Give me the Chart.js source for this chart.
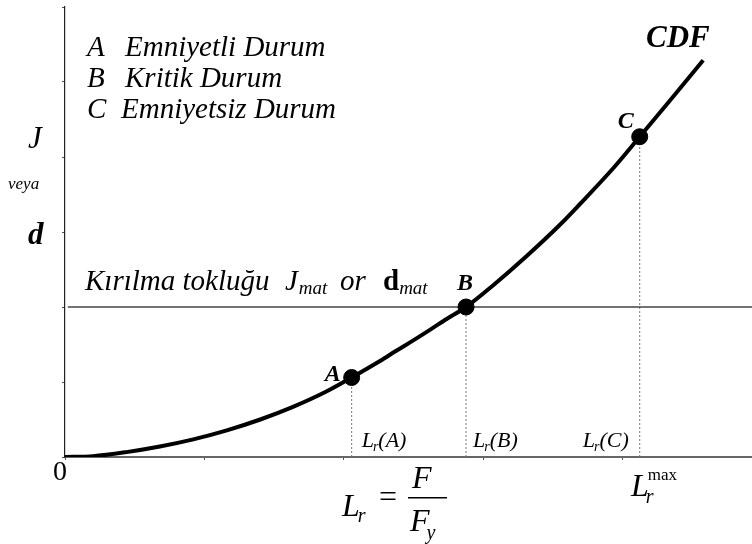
<!DOCTYPE html>
<html>
<head>
<meta charset="utf-8">
<script src="https://cdn.jsdelivr.net/npm/chart.js@4/dist/chart.umd.min.js"></script>
<style>
  html, body { margin: 0; padding: 0; background: #fff; overflow: hidden; }
  canvas { display: block; }
</style>
</head>
<body>
<canvas id="cdfChart" width="752" height="544"></canvas>
<script>
// === Data ===
// CDF curve: L_r (x) against J or d (y)
const curveLr = [0, 0.20, 0.44, 0.68, 0.92, 1.16, 1.40, 1.63, 1.87, 2.055, 2.258, 2.378, 2.497, 2.616, 2.736, 2.875, 3.07, 3.31, 3.55, 3.69, 3.93, 4.12, 4.34, 4.575];
const curveJ  = [0, 0.01, 0.065, 0.14, 0.235, 0.355, 0.50, 0.665, 0.87, 1.06,  1.28,  1.42,  1.555, 1.695, 1.84,  2.00,  2.29, 2.68, 3.10, 3.37, 3.85, 4.27, 4.76, 5.29];

// Assessment points A / B / C
const stateNames = ["A", "B", "C"];
const stateLr    = [2.055, 2.875, 4.12];
const stateJ     = [1.06, 2.00, 4.27];

// Fracture toughness level (J_mat or d_mat)
const jMat = 2.0;

// Axis ranges and tick spacing
const xMax = 4.925;
const yMax = 6;
const tickStep = 1;

// --- build datasets from the arrays above ---
const curvePts = curveLr.map((x, i) => ({ x: x, y: curveJ[i] }));
const statePts = stateLr.map((x, i) => ({ x: x, y: stateJ[i] }));

const dropLines = stateLr.map((x, i) => ({
    type: "line",
    data: [{ x: x, y: 0 }, { x: x, y: stateJ[i] }],
    borderColor: "#777",
    borderWidth: 1,
    borderDash: [2, 2],
    pointRadius: 0,
    order: 5
}));

const serif = "'Liberation Serif', 'Times New Roman', serif";

function txt(ctx, s, x, y, font) {
    ctx.font = font + " " + serif;
    ctx.fillText(s, x, y);
    return x + ctx.measureText(s).width;
}

// === All the texts of the figure ===
const textPlugin = {
    id: "figureTexts",
    afterDraw(chart) {
        const ctx = chart.ctx;
        const xs = chart.scales.x, ys = chart.scales.y;
        ctx.save();
        ctx.fillStyle = "#000";
        ctx.textBaseline = "alphabetic";

        // legend of states
        txt(ctx, "A", 87, 56, "italic 29px");
        txt(ctx, "Emniyetli Durum", 125, 56, "italic 29px");
        txt(ctx, "B", 87, 87, "italic 29px");
        txt(ctx, "Kritik Durum", 125, 87, "italic 29px");
        txt(ctx, "C", 87, 118, "italic 29px");
        txt(ctx, "Emniyetsiz Durum", 121, 118, "italic 29px");

        // y axis title
        txt(ctx, "J", 28, 148, "italic 31px");
        txt(ctx, "veya", 8, 189, "italic 17px");
        txt(ctx, "d", 28, 244, "bold italic 31px");

        // curve name
        txt(ctx, "CDF", 646, 47, "bold italic 31px");

        // state labels next to the dots
        const offs = [[-27, 3], [-9, -17], [-22, -9]];
        stateNames.forEach((n, i) => {
            const px = xs.getPixelForValue(stateLr[i]);
            const py = ys.getPixelForValue(stateJ[i]);
            txt(ctx, n, px + offs[i][0], py + offs[i][1], "bold italic 24px");
        });

        // toughness line label
        const ly = ys.getPixelForValue(jMat) - 17;
        let cx = txt(ctx, "Kırılma tokluğu", 85, ly, "italic 29px");
        cx = txt(ctx, "J", 285, ly, "italic 29px");
        txt(ctx, "mat", cx + 1, ly + 4, "italic 19px");
        txt(ctx, "or", 340, ly, "italic 29px");
        cx = txt(ctx, "d", 383, ly, "bold 29px");
        txt(ctx, "mat", cx, ly + 4, "italic 19px");

        // L_r(A) ... labels above the x axis
        const lOffs = [10, 7, -57];
        stateNames.forEach((n, i) => {
            const px = xs.getPixelForValue(stateLr[i]);
            let x = txt(ctx, "L", px + lOffs[i], 447, "italic 22px");
            x = txt(ctx, "r", x - 1, 451, "italic 14px");
            txt(ctx, "(" + n + ")", x, 447, "italic 22px");
        });

        // origin
        txt(ctx, "0", 53, 480, "28px");

        // L_r = F / F_y
        let x = txt(ctx, "L", 342, 516, "italic 32px");
        txt(ctx, "r", x - 2, 522, "italic 20px");
        txt(ctx, "=", 379, 507, "32px");
        ctx.fillRect(408, 497, 39, 1.5);
        txt(ctx, "F", 412, 488, "italic 32px");
        x = txt(ctx, "F", 410, 531, "italic 32px");
        txt(ctx, "y", x - 3, 539, "italic 20px");

        // L_r^max
        x = txt(ctx, "L", 631, 496, "italic 32px");
        txt(ctx, "r", x - 3, 503, "italic 20px");
        txt(ctx, "max", x - 1, 480, "17px");

        ctx.restore();
    }
};

new Chart(document.getElementById("cdfChart"), {
    type: "scatter",
    data: {
        datasets: [
            {
                // the CDF curve
                type: "line",
                data: curvePts,
                borderColor: "#000",
                borderWidth: 4,
                cubicInterpolationMode: "monotone",
                pointRadius: 0,
                order: 2
            },
            {
                // A, B, C dots
                data: statePts,
                backgroundColor: "#000",
                borderColor: "#000",
                pointRadius: 8,
                order: 1
            },
            {
                // fracture toughness level
                type: "line",
                data: [{ x: 0.02, y: jMat }, { x: xMax, y: jMat }],
                borderColor: "#444",
                borderWidth: 1.5,
                pointRadius: 0,
                order: 4
            },
            ...dropLines
        ]
    },
    options: {
        responsive: false,
        animation: false,
        layout: { autoPadding: false, padding: { left: 62, right: 0, top: 7, bottom: 84 } },
        plugins: { legend: { display: false }, tooltip: { enabled: false } },
        scales: {
            x: {
                type: "linear",
                min: 0,
                max: xMax,
                ticks: { display: false, stepSize: tickStep },
                grid: { drawOnChartArea: false, tickLength: 3, color: "#555" },
                border: { color: "#666", width: 2 }
            },
            y: {
                type: "linear",
                min: 0,
                max: yMax,
                ticks: { display: false, stepSize: tickStep },
                grid: { drawOnChartArea: false, tickLength: 3, color: "#555" },
                border: { color: "#222", width: 1.2 }
            }
        }
    },
    plugins: [textPlugin]
});
</script>
</body>
</html>
